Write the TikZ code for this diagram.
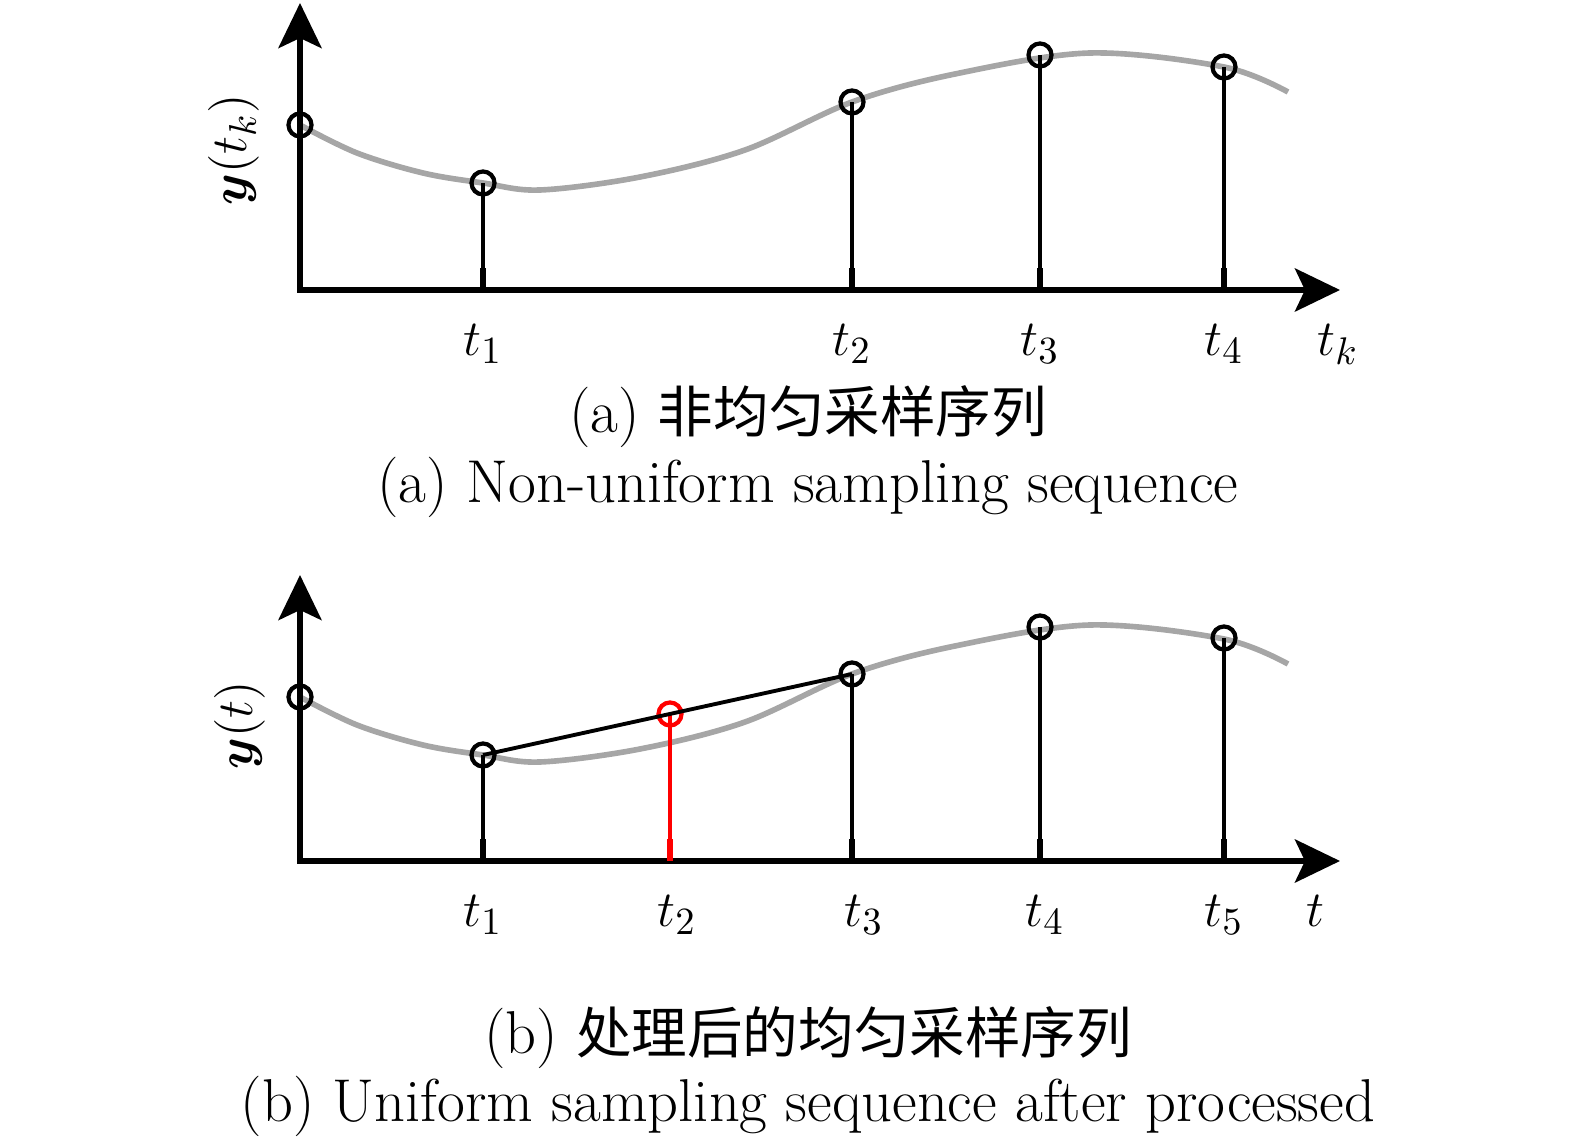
\documentclass[tikz,border=0pt]{standalone}
\usepackage{amsmath}
\usepackage{fontspec}
\newfontfamily\cjk{Noto Sans CJK SC}
\usetikzlibrary{arrows.meta}

\begin{document}
\begin{tikzpicture}[x=0.01cm, y=-0.01cm,
  font=\fontsize{15}{18}\selectfont,
  axis/.style = {line width=1.7pt,
    {Stealth[length=0.45cm, width=0.43cm, inset=0.1cm]}-{Stealth[length=0.45cm, width=0.43cm, inset=0.1cm]}},
  signal/.style = {line width=1.6pt, black!35},
  stem/.style = {line width=1.15pt},
  tick/.style = {line width=1.9pt},
  sample/.style = {circle, draw, line width=1.2pt, minimum size=0.23cm, inner sep=0pt},
  tlabel/.style = {below=0.22cm},
  caption/.style = {font=\fontsize{17.2}{20}\selectfont}]
  \useasboundingbox (0,0) rectangle (1575,1140);

  % (a) non-uniform samples
  \draw[signal] plot[smooth, tension=0.55] coordinates {(300,125) (357,153) (423,173)
    (483,183) (540,190) (640,177) (745,150) (852,102) (955,74) (1090,53) (1224,67) (1288,92)};
  \draw[axis] (300,3) -- (300,290) -- (1340,290);
  \node[sample] (pa0) at (300,125) {};
  \foreach \n/\x/\y in {1/483/183, 2/852/102, 3/1040/55, 4/1224/67} {
    \coordinate (a\n) at (\x,290);
    \node[sample] (pa\n) at (\x,\y) {};
    \draw[stem] (a\n) -- (pa\n.center);
    \draw[tick] (a\n) -- ++(0,-22);
    \node[tlabel] (la\n) at (a\n) {$t_\n$};
  }
  \node[tlabel] (lak) at (1338,290) {$t_k$};
  \node[rotate=90] (ya) at (234,150) {$\boldsymbol{y}(t_k)$};
  \node[caption] (capa) at (808,417) {(a) {\fontsize{15.8}{20}\selectfont\cjk 非均匀采样序列}};
  \node[caption] (capaen) at (808,487) {(a) Non-uniform sampling sequence};

  % (b) uniform samples after processing
  \begin{scope}[shift={(0,572)}]
    \draw[signal] plot[smooth, tension=0.55] coordinates {(300,125) (357,153) (423,173)
      (483,183) (540,190) (640,177) (745,150) (852,102) (955,74) (1090,53) (1224,67) (1288,92)};
  \end{scope}
  \draw[axis] (300,575) -- (300,861) -- (1340,861);
  \node[sample] (pb0) at (300,697) {};
  \foreach \n/\x/\y/\lx in {1/483/755/483, 3/852/674/864, 4/1040/627/1045, 5/1224/638/1224} {
    \coordinate (b\n) at (\x,861);
    \node[sample] (pb\n) at (\x,\y) {};
    \draw[stem] (b\n) -- (pb\n.center);
    \draw[tick] (b\n) -- ++(0,-22);
    \node[tlabel] (lb\n) at (\lx,861) {$t_\n$};
  }
  \coordinate (b2) at (670,861);
  \node[sample, red] (pb2) at (670,714) {};
  \draw[stem, red] (b2) -- (pb2.center);
  \draw[tick, red] (b2) -- ++(0,-22);
  \node[tlabel] (lb2) at (677,861) {$t_2$};
  \draw[line width=1.1pt] (pb1.center) -- (pb3.center);
  \node[tlabel] (lbt) at (1315,861) {$t$};
  \node[rotate=90] (yb) at (240,725) {$\boldsymbol{y}(t)$};
  \node[caption] (capb) at (808,1038) {(b) {\fontsize{15.8}{20}\selectfont\cjk 处理后的均匀采样序列}};
  \node[caption] (capben) at (808,1106) {(b) Uniform sampling sequence after processed};
\end{tikzpicture}
\end{document}
